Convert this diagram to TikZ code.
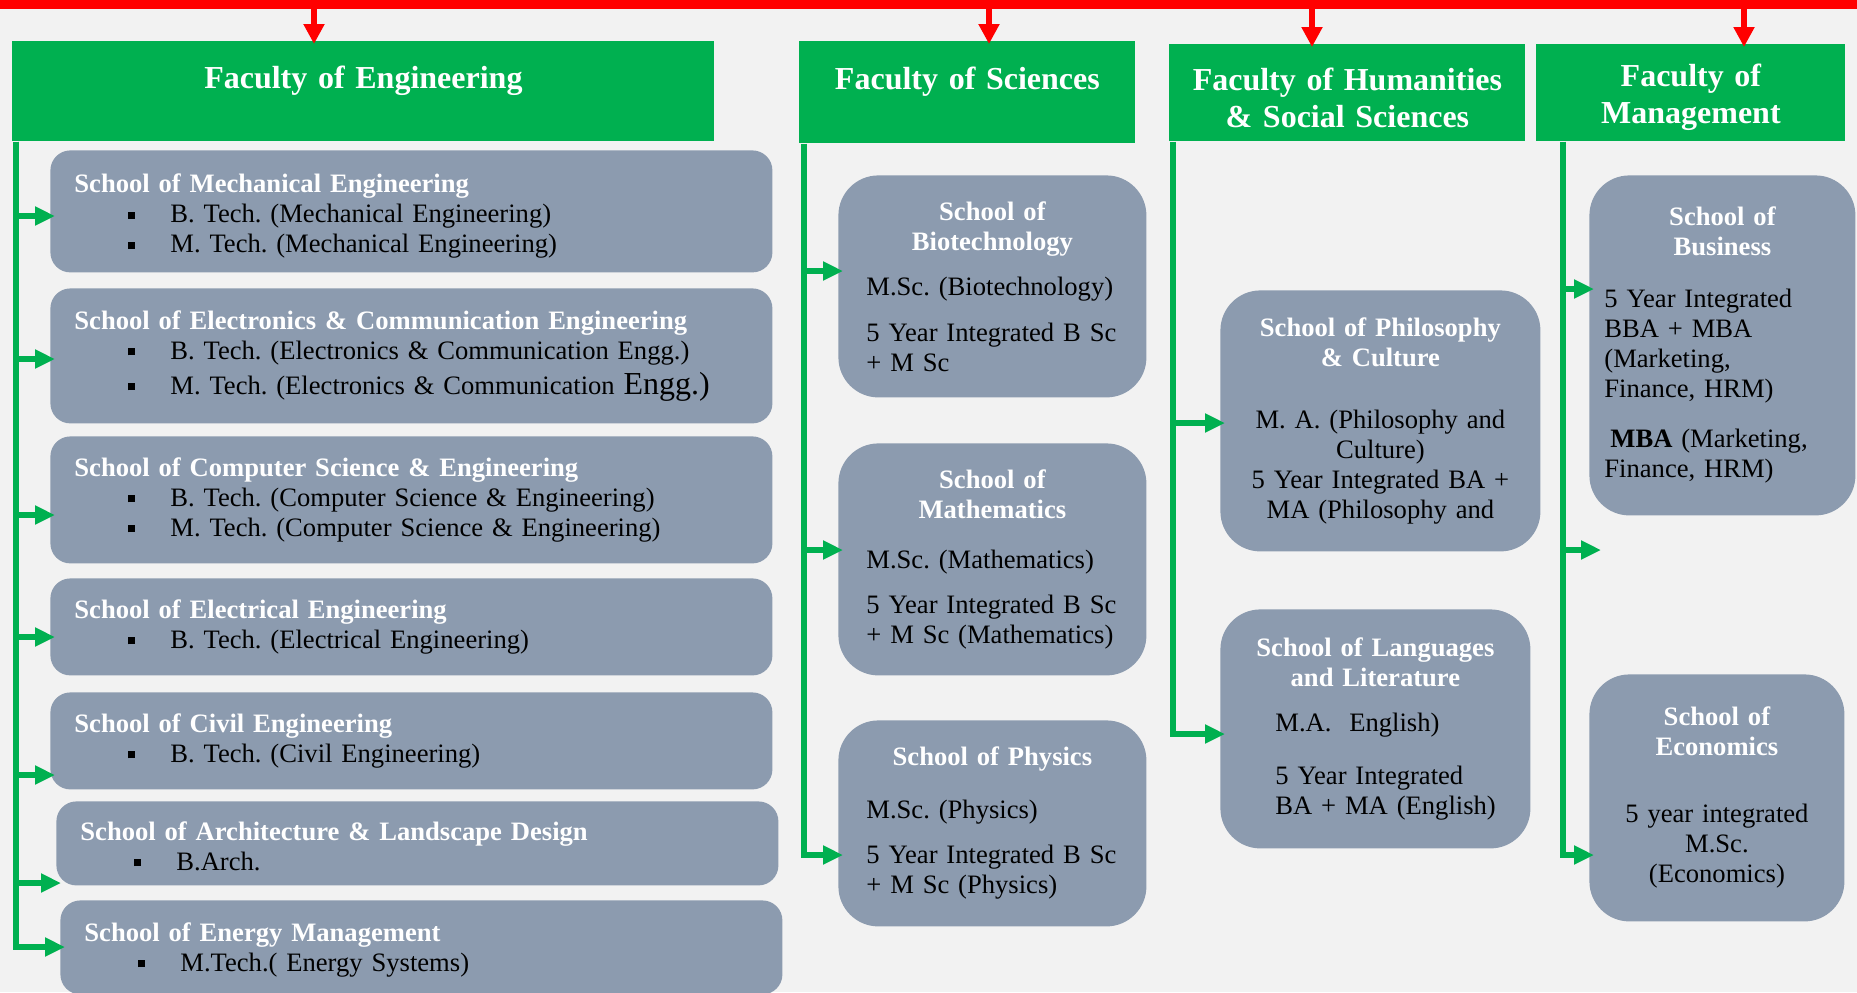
\documentclass[tikz,border=0pt]{standalone}
\usepackage{fontspec}
\setmainfont{Liberation Serif}
\usetikzlibrary{arrows.meta}
\definecolor{bggray}{HTML}{F2F2F2}
\definecolor{facgreen}{HTML}{00B050}
\definecolor{schoolgray}{HTML}{8C9BAF}
\definecolor{facred}{HTML}{FF0000}
\frenchspacing
\newcommand\ltitle[1]{{\bfseries\color{white}#1}}
\newcommand\ctitle[1]{\makebox[\linewidth]{\bfseries\color{white}#1}}
\newcommand\bitem{\hspace*{27pt}\makebox[21pt][l]{\rule[2pt]{3.5pt}{3.5pt}}}

\begin{document}
\begin{tikzpicture}
  [x=0.5pt,y=-0.5pt,
   faculty/.style={rectangle,fill=facgreen,anchor=north west,inner sep=0pt,
     align=center,text=white,text height=16pt,
     font=\fontsize{16}{18.5}\selectfont\bfseries},
   school/.style={rectangle,fill=schoolgray,anchor=north west,inner ysep=2pt,
     font=\fontsize{13.3}{15}\selectfont},
   engschool/.style={school,rounded corners=10pt,inner xsep=12pt,
     text width=337pt,align=left},
   scischool/.style={school,rounded corners=20pt,inner xsep=14pt,
     text width=126pt,align=left},
   humschool/.style={school,rounded corners=20pt},
   mgmtschool/.style={school,rounded corners=20pt,inner xsep=7.5pt},
   branch/.style={draw=facgreen,line width=3pt,shorten >=-2.5pt,
     -{Triangle[length=10pt,width=9pt]}},
   redarrow/.style={draw=facred,line width=3pt,shorten >=-1.5pt,
     -{Triangle[length=10pt,width=10pt]}}]

  \useasboundingbox (0,0) rectangle (1857,992);
  \fill[bggray] (0,0) rectangle (1857,992);

  % faculties
  \node[faculty,text width=351pt,minimum height=50pt] (eng) at (12,41)
    {Faculty of Engineering\\\mbox{}};
  \node[faculty,text width=168pt,minimum height=51pt] (sci) at (799,41)
    {Faculty of Sciences\\\mbox{}};
  \node[faculty,text width=178pt,minimum height=48.5pt] (hum) at (1169,44)
    {Faculty of Humanities\\ \& Social Sciences};
  \node[faculty,text width=154.5pt,minimum height=48.5pt] (mgmt) at (1536,44)
    {Faculty of\\ Management};

  % engineering schools
  \node[engschool,minimum height=61pt,text height=14pt] (mech) at (50,150)
    {\ltitle{School of Mechanical Engineering}\\
     \bitem B. Tech. (Mechanical Engineering)\\
     \bitem M. Tech. (Mechanical Engineering)};
  \node[engschool,minimum height=67.5pt] (ece) at (50,288)
    {\ltitle{School of Electronics \& Communication Engineering}\\
     \bitem B. Tech. (Electronics \& Communication Engg.)\\[2.5pt]
     \bitem M. Tech. (Electronics \& Communication {\fontsize{16}{15}\selectfont Engg.)}};
  \node[engschool,minimum height=63.5pt] (cse) at (50,436)
    {\ltitle{School of Computer Science \& Engineering}\\
     \bitem B. Tech. (Computer Science \& Engineering)\\
     \bitem M. Tech. (Computer Science \& Engineering)};
  \node[engschool,minimum height=48.5pt] (ee) at (50,578)
    {\ltitle{School of Electrical Engineering}\\
     \bitem B. Tech. (Electrical Engineering)};
  \node[engschool,minimum height=48.5pt] (civil) at (50,692)
    {\ltitle{School of Civil Engineering}\\
     \bitem B. Tech. (Civil Engineering)};
  \node[engschool,minimum height=42pt,text height=12pt] (arch) at (56,801)
    {\ltitle{School of Architecture \& Landscape Design}\\
     \bitem B.Arch.};
  \node[engschool,minimum height=47pt,text height=11.5pt] (energy) at (60,900)
    {\ltitle{School of Energy Management}\\
     \bitem M.Tech.( Energy Systems)};

  % science schools
  \node[scischool,minimum height=111pt] (bio) at (838,175)
    {\ctitle{School of}\\ \ctitle{Biotechnology}\\[7.5pt]
     M.Sc. (Biotechnology)\\[8pt]
     5 Year Integrated B Sc\\ + M Sc};
  \node[scischool,minimum height=116pt] (math) at (838,443)
    {\ctitle{School of}\\ \ctitle{Mathematics}\\[10pt]
     M.Sc. (Mathematics)\\[7.5pt]
     5 Year Integrated B Sc\\ + M Sc (Mathematics)};
  \node[scischool,minimum height=103pt] (phys) at (838,720)
    {\ctitle{School of Physics}\\[11.5pt]
     M.Sc. (Physics)\\[7.5pt]
     5 Year Integrated B Sc\\ + M Sc (Physics)};

  % humanities schools
  \node[humschool,inner xsep=10pt,text width=140pt,align=center,
    minimum height=130.5pt] (phil) at (1220,290)
    {\ctitle{School of Philosophy}\\ \ctitle{\& Culture}\\[16pt]
     M. A. (Philosophy and\\ Culture)\\ 5 Year Integrated BA +\\ MA (Philosophy and};
  \node[humschool,inner xsep=15pt,text width=125pt,align=left,
    minimum height=119.5pt] (lang) at (1220,609)
    {\ctitle{School of Languages}\\ \ctitle{and Literature}\\[7.5pt]
     \hspace*{12.5pt}M.A.\ \ English)\\[11.5pt]
     \hspace*{12.5pt}5 Year Integrated\\
     \hspace*{12.5pt}BA + MA (English)};

  % management schools
  \node[mgmtschool,text width=118pt,align=left,minimum height=170pt] (bus) at (1589,175)
    {\ctitle{School of}\\ \ctitle{Business}\\[11pt]
     5 Year Integrated\\ BBA + MBA\\ (Marketing,\\ Finance, HRM)\\[10pt]
     \hspace*{3pt}\textbf{MBA} (Marketing,\\ Finance, HRM)};
  \node[mgmtschool,text width=112.5pt,align=center,minimum height=123.5pt] (econ) at (1589,674)
    {\ctitle{School of}\\ \ctitle{Economics}\\[18.5pt]
     5 year integrated\\ M.Sc.\\ (Economics)};

  % red bar and arrows to faculties
  \fill[facred] (0,0) rectangle (1857,9);
  \foreach \f/\x in {eng/314,sci/989,hum/1312,mgmt/1744}{
    \coordinate (top\f) at (\x,9);
    \draw[redarrow] (top\f) -- (top\f |- \f.north);
  }

  % green trunks and branches
  \coordinate (engtop) at ([xshift=2pt]eng.south west);
  \coordinate (scitop) at ([xshift=2.5pt]sci.south west);
  \coordinate (humtop) at ([xshift=2pt]hum.south west);
  \coordinate (mgmttop) at ([xshift=13.25pt]mgmt.south west);
  \coordinate (mgmtend) at (1601,550);

  \foreach \s/\y in {mech/216,ece/359,cse/515,ee/637,civil/775,arch/883,energy/947}
    \draw[branch] (engtop) |- (\s.west |- 0,\y);
  \foreach \s/\y in {bio/271,math/550,phys/855}
    \draw[branch] (scitop) |- (\s.west |- 0,\y);
  \foreach \s/\y in {phil/423,lang/734}
    \draw[branch] (humtop) |- (\s.west |- 0,\y);
  \foreach \s/\y in {bus/289,econ/855}
    \draw[branch] (mgmttop) |- (\s.west |- 0,\y);
  \draw[branch,shorten >=0pt] (mgmttop) |- (mgmtend);
\end{tikzpicture}
\end{document}
